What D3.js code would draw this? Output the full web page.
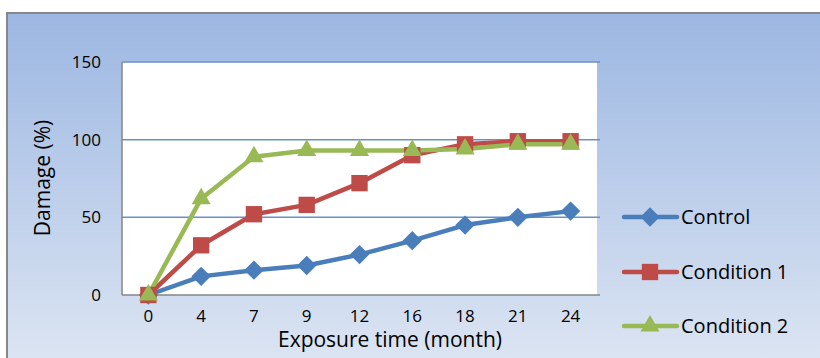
<!DOCTYPE html>
<html><head><meta charset="utf-8">
<script src="https://cdn.jsdelivr.net/npm/d3@7"></script>
<style>body{margin:0;background:#fff}svg{display:block}</style>
</head><body><svg id="c" width="820" height="358"></svg>
<script>
const categories = ["0","4","7","9","12","16","18","21","24"];
const control = [0, 12, 16, 19, 26, 35, 45, 50, 54];
const condition1 = [0, 32, 52, 58, 72, 90, 97, 99, 99];
const condition2 = [0, 62, 89, 93, 93, 93, 94, 97, 97];
const yTicks = [0, 50, 100, 150];
const seriesNames = ["Control", "Condition 1", "Condition 2"];

const series = [
  {name: seriesNames[0], values: control, color: "#4A7EBB", shape: d3.symbolDiamond2, size: 240},
  {name: seriesNames[1], values: condition1, color: "#BE4B48", shape: d3.symbolSquare2, size: 340},
  {name: seriesNames[2], values: condition2, color: "#98B954", shape: d3.symbolTriangle2, size: 260}
];

const svg = d3.select("#c");
const defs = svg.append("defs");
const g = defs.append("linearGradient").attr("id","bg").attr("x1",0).attr("y1",0).attr("x2",0).attr("y2",1);
g.append("stop").attr("offset","0%").attr("stop-color","#9CB7E2");
g.append("stop").attr("offset","100%").attr("stop-color","#DEE6F3");

svg.append("rect").attr("x",7).attr("y",13).attr("width",820).attr("height",360)
  .attr("fill","url(#bg)").attr("stroke","#878787").attr("stroke-width",2);

const L=122, R=597, T=62, B=295;
const x = d3.scaleBand().domain(categories).range([L,R]);
const y = d3.scaleLinear().domain([0,150]).range([B,T]);

svg.append("rect").attr("x",L).attr("y",T).attr("width",R-L).attr("height",B-T).attr("fill","#fff");

// gridlines
svg.append("g").selectAll("line").data(yTicks.filter(d=>d>0)).join("line")
  .attr("x1",L).attr("x2",R+3).attr("y1",d=>y(d)).attr("y2",d=>y(d))
  .attr("stroke","#6A8FC8").attr("stroke-width",1.5);

// axes lines
svg.append("line").attr("x1",L).attr("x2",L).attr("y1",T).attr("y2",B).attr("stroke","#868686").attr("stroke-width",1.5);
svg.append("line").attr("x1",L).attr("x2",R+3).attr("y1",B).attr("y2",B).attr("stroke","#868686").attr("stroke-width",1.5);

const font = "'Open Sans', 'Noto Sans', sans-serif";
// y axis
const ya = svg.append("g").attr("transform",`translate(${L},0)`)
  .call(d3.axisLeft(y).tickValues(yTicks).tickSize(0).tickPadding(21));
ya.select(".domain").remove();
ya.selectAll("text").attr("font-family",font).attr("font-size",17).attr("fill","#000");

// x axis
const xa = svg.append("g").attr("transform",`translate(0,${B})`)
  .call(d3.axisBottom(x).tickSize(0).tickPadding(15));
xa.select(".domain").remove();
xa.selectAll("text").attr("font-family",font).attr("font-size",17).attr("fill","#000");

// titles
svg.append("text").attr("transform","translate(50,178) rotate(-90)").attr("text-anchor","middle")
  .attr("font-family",font).attr("font-size",21).attr("fill","#000").text("Damage (%)");
svg.append("text").attr("x",390).attr("y",347).attr("text-anchor","middle")
  .attr("font-family",font).attr("font-size",21).attr("fill","#000").text("Exposure time (month)");

const cx = (d,i)=>x(categories[i])+x.bandwidth()/2;
const line = d3.line().x((d,i)=>cx(d,i)).y(d=>y(d));

series.forEach(s=>{
  svg.append("path").attr("d",line(s.values)).attr("fill","none")
    .attr("stroke",s.color).attr("stroke-width",4.5).attr("stroke-linejoin","round");
});
series.forEach(s=>{
  const sym = d3.symbol().type(s.shape).size(s.size);
  svg.append("g").selectAll("path").data(s.values).join("path")
    .attr("d",sym).attr("fill",s.color)
    .attr("transform",(d,i)=>`translate(${cx(d,i)},${y(d)})`);
});

// legend
const legY = [217, 272, 326];
series.forEach((s,i)=>{
  const lg = svg.append("g").attr("transform",`translate(0,${legY[i]})`);
  lg.append("line").attr("x1",624).attr("x2",677).attr("y1",0).attr("y2",0)
    .attr("stroke",s.color).attr("stroke-width",4.5).attr("stroke-linecap","round");
  const sym = d3.symbol().type(s.shape).size(s.size);
  lg.append("path").attr("d",sym).attr("fill",s.color).attr("transform","translate(650,0)");
  lg.append("text").attr("x",681).attr("y",0).attr("dy","0.35em")
    .attr("font-family",font).attr("font-size",20).attr("fill","#000").text(s.name);
});
</script></body></html>
